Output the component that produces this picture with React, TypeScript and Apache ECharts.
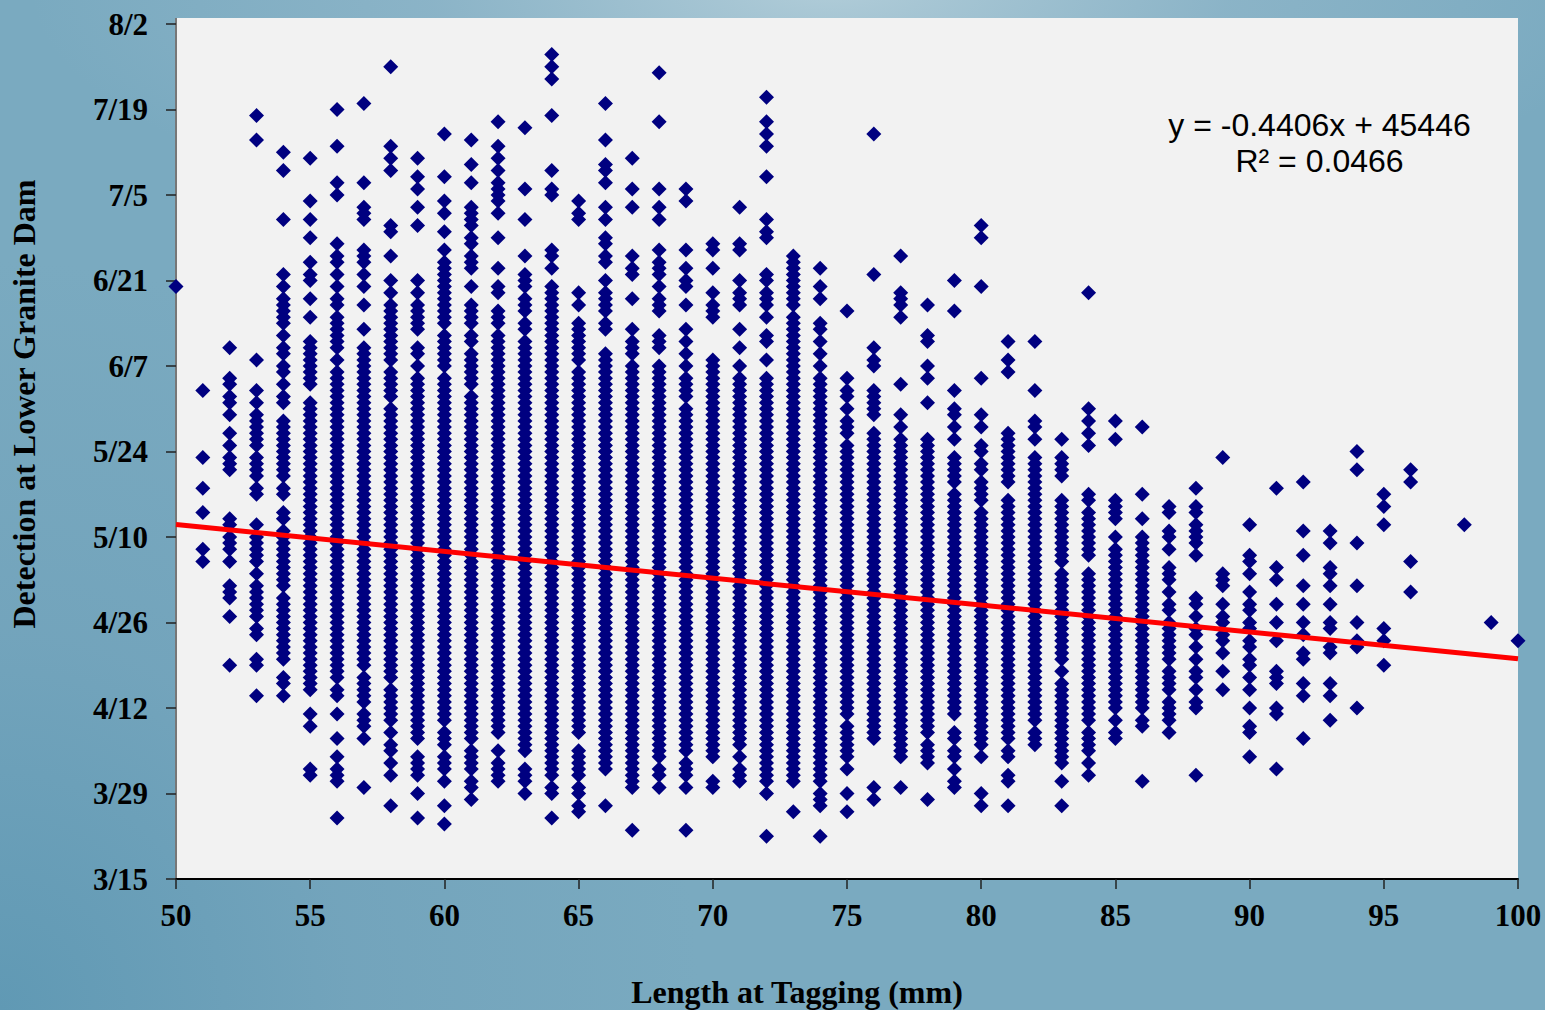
import React, { useEffect, useRef } from "react";
import * as echarts from "echarts";

// Days after 3/15 at Lower Granite Dam, per length at tagging (mm).
// A pair [a, b] is a solid run of detections, from day a to day b.
type Run = number | [number, number];
const len50: Run[] = [97];
const len51: Run[] = [80, 69, 64, 60, 54, 52];
const len52: Run[] = [87, [81, 82], [78, 79], 76, 73, 71, [67, 69], [58, 59], [54, 56], 52, [46, 48], 43, 35];
const len53: Run[] = [125, 121, 85, 80, 78, [71, 76], [66, 69], [63, 64], 58, [52, 56], 50, [43, 48], [40, 41], [35, 36], 30];
const len54: Run[] = [119, 116, 108, 99, 97, [92, 95], 91, 89, [86, 87], [83, 84], 81, [78, 79], [66, 75], [63, 64], [59, 60], [48, 57], [36, 46], [32, 33], 30];
const len55: Run[] = [118, 111, 108, 105, 101, [98, 99], 95, 92, [81, 88], [31, 78], 27, 25, [17, 18]];
const len56: Run[] = [126, 120, 114, 112, 104, [101, 102], 99, 97, [94, 95], [87, 92], 85, [33, 83], [30, 31], 27, 23, 20, [16, 18], 10];
const len57: Run[] = [127, 114, [108, 110], [101, 103], 99, 97, 94, 90, [35, 87], [29, 33], [25, 27], 23, 15];
const len58: Run[] = [133, 120, 118, 116, [106, 107], 102, 98, 96, [85, 94], [79, 83], [33, 77], [26, 31], 24, [21, 22], 19, 17, 12];
const len59: Run[] = [118, 115, 113, 110, 107, 98, 96, [90, 94], [86, 87], 84, [23, 82], [17, 20], 14, 10];
const len60: Run[] = [122, 115, 111, 109, 106, 103, [91, 101], [84, 89], [26, 82], [22, 24], [18, 20], 16, 12, 9];
const len61: Run[] = [121, 117, 114, [107, 110], [104, 105], [100, 102], 97, [91, 94], [88, 89], [81, 86], [23, 79], [18, 21], [15, 16], 13];
const len62: Run[] = [124, 120, 118, 116, [111, 114], 109, 105, 100, [96, 97], [91, 93], [24, 89], 21, [16, 19]];
const len63: Run[] = [123, 113, 108, 102, [97, 99], [93, 95], [90, 91], [21, 88], [16, 18], 14];
const len64: Run[] = [135, 133, 131, 125, 116, [112, 113], [102, 103], 100, [17, 97], [14, 15], 10];
const len65: Run[] = [111, [108, 109], 96, 94, [85, 91], [24, 83], [17, 21], [14, 15], [11, 12]];
const len66: Run[] = [127, 121, [116, 117], 114, 110, 108, [104, 105], [101, 102], 98, [93, 96], [90, 91], [18, 86], 12];
const len67: Run[] = [118, 113, 110, 102, [99, 100], 95, 90, [86, 88], [15, 84], 8];
const len68: Run[] = [132, 124, 113, 110, 108, 103, [99, 101], 97, [93, 95], [87, 89], [20, 84], [17, 18], 15];
const len69: Run[] = [113, 111, 103, 100, [97, 98], 94, 90, 88, 86, 84, [79, 82], [21, 77], [17, 19], 15, 8];
const len70: Run[] = [[103, 104], 100, 96, [92, 94], [20, 85], [15, 16]];
const len71: Run[] = [110, [103, 104], 98, [94, 96], 90, 87, 84, [22, 82], 20, [16, 18]];
const len72: Run[] = [128, 124, 122, 120, 115, 108, [105, 106], [98, 99], [94, 96], 92, [88, 89], 85, [16, 82], 14, 7];
const len73: Run[] = [[101, 102], [94, 100], [16, 92], 11];
const len74: Run[] = [100, 97, 95, [90, 91], 88, 86, 84, [16, 82], [12, 14], 7];
const len75: Run[] = [93, 82, [79, 80], 77, [73, 75], [27, 71], [20, 25], 18, 14, 11];
const len76: Run[] = [122, 99, 87, [84, 85], [76, 80], [23, 73], 15, 13];
const len77: Run[] = [102, [94, 96], 92, 81, 76, 74, [20, 72], 15];
const len78: Run[] = [94, [88, 89], 84, 82, 78, [24, 72], [19, 22], 13];
const len79: Run[] = [98, 93, 80, [76, 77], 74, 72, [65, 69], [27, 63], [23, 24], [20, 21], 18, [15, 16]];
const len80: Run[] = [107, 105, 97, 82, 76, 74, [70, 71], [67, 68], [62, 65], [22, 60], 20, 14, 12];
const len81: Run[] = [88, 85, 83, [65, 73], [23, 62], [20, 21], [16, 17], 12];
const len82: Run[] = [88, 80, [74, 75], 72, [26, 69], [22, 24]];
const len83: Run[] = [72, [66, 69], [52, 62], [36, 50], 34, [19, 32], 16, 12];
const len84: Run[] = [96, 77, 75, 73, 71, [62, 63], [53, 60], [26, 50], [21, 24], 19, 17];
const len85: Run[] = [75, 72, [59, 62], 56, [28, 54], 26, [23, 24]];
const len86: Run[] = [74, 63, 59, [28, 56], [25, 26], 16];
const len87: Run[] = [[60, 61], [56, 57], 54, [49, 51], 47, [44, 45], [36, 42], [31, 34], [26, 29], 24];
const len88: Run[] = [64, [60, 61], [55, 58], 53, [45, 46], 43, [40, 41], 38, 36, [33, 34], 31, [28, 29], 17];
const len89: Run[] = [69, [48, 50], 45, [42, 43], [39, 40], 37, 34, 31];
const len90: Run[] = [58, [52, 53], 50, 47, [44, 45], [41, 42], [38, 39], [35, 36], 33, 31, 28, [24, 25], 20];
const len91: Run[] = [64, 51, 49, 45, 42, 39, [32, 34], [27, 28], 18];
const len92: Run[] = [65, 57, 53, 48, 45, 42, 40, [36, 37], 32, 30, 23];
const len93: Run[] = [57, 55, [50, 51], 48, 45, [41, 42], [37, 38], 32, 30, 26];
const len94: Run[] = [70, 67, 55, 48, 42, [38, 39], 28];
const len95: Run[] = [63, 61, 58, 41, 39, 35];
const len96: Run[] = [67, 65, 52, 47];
const len98: Run[] = [58];
const len99: Run[] = [42];
const len100: Run[] = [39];

const lengths = [50, 51, 52, 53, 54, 55, 56, 57, 58, 59, 60, 61, 62, 63, 64, 65, 66, 67, 68, 69, 70, 71, 72, 73, 74, 75, 76, 77, 78, 79, 80, 81, 82, 83, 84, 85, 86, 87, 88, 89, 90, 91, 92, 93, 94, 95, 96, 98, 99, 100];
const columns = [len50, len51, len52, len53, len54, len55, len56, len57, len58, len59, len60, len61, len62, len63, len64, len65, len66, len67, len68, len69, len70, len71, len72, len73, len74, len75, len76, len77, len78, len79, len80, len81, len82, len83, len84, len85, len86, len87, len88, len89, len90, len91, len92, len93, len94, len95, len96, len98, len99, len100];

const dateLabels = ["3/15", "3/29", "4/12", "4/26", "5/10", "5/24", "6/7", "6/21", "7/5", "7/19", "8/2"];
const trendLengths = [50, 100];
const trendDays = [58.05, 36.05];
const equation = "y = -0.4406x + 45446\nR² = 0.0466";
const xTitle = "Length at Tagging (mm)";
const yTitle = "Detection at Lower Granite Dam";

function expand(): [number, number][] {
  const pts: [number, number][] = [];
  columns.forEach((col, i) => {
    col.forEach((r) => {
      if (Array.isArray(r)) {
        for (let d = r[1]; d >= r[0]; d--) pts.push([lengths[i], d]);
      } else {
        pts.push([lengths[i], r]);
      }
    });
  });
  return pts;
}

const SERIF = '"Liberation Serif", "Times New Roman", serif';
const SANS = '"Liberation Sans", Arial, sans-serif';

export default function App() {
  const ref = useRef<HTMLDivElement>(null);
  useEffect(() => {
    document.body.style.margin = "0";
    const chart = echarts.init(ref.current!, undefined, { renderer: "svg", width: 1545, height: 1010 });
    chart.setOption({
      animation: false,
      backgroundColor: "transparent",
      grid: { left: 176, right: 27, top: 24, bottom: 131, containLabel: false },
      xAxis: {
        type: "value",
        min: 50,
        max: 100,
        interval: 5,
        splitLine: { show: false },
        axisLine: { lineStyle: { color: "#000", width: 2 } },
        axisTick: { length: 10, lineStyle: { color: "#222", width: 1.5 } },
        axisLabel: { color: "#000", fontFamily: SERIF, fontWeight: "bold", fontSize: 31, margin: 21 },
      },
      yAxis: {
        type: "value",
        min: 0,
        max: 140,
        interval: 14,
        splitLine: { show: false },
        axisLine: { show: true, lineStyle: { color: "#777", width: 2 } },
        axisTick: { show: true, length: 10, lineStyle: { color: "#222", width: 1.5 } },
        axisLabel: {
          color: "#000",
          fontFamily: SERIF,
          fontWeight: "bold",
          fontSize: 31,
          margin: 28,
          formatter: (v: number) => dateLabels[Math.round(v / 14)] ?? "",
        },
      },
      graphic: [
        { type: "rect", z: -10, shape: { x: 176, y: 18, width: 1342, height: 861 }, style: { fill: "#f2f2f2" } },
        { type: "line", z: -9, shape: { x1: 176, y1: 18, x2: 176, y2: 24 }, style: { stroke: "#777", lineWidth: 2 } },
        {
          type: "text", z: 10, x: 1319.5, y: 143,
          style: { text: equation, fill: "#000", font: `32px ${SANS}`, align: "center", verticalAlign: "middle", lineHeight: 36 },
        },
        {
          type: "text", z: 10, x: 797, y: 992,
          style: { text: xTitle, fill: "#000", font: `bold 32px ${SERIF}`, align: "center", verticalAlign: "middle" },
        },
        {
          type: "text", z: 10, x: 24, y: 404, rotation: Math.PI / 2,
          style: { text: yTitle, fill: "#000", font: `bold 32px ${SERIF}`, align: "center", verticalAlign: "middle" },
        },
      ],
      series: [
        {
          type: "scatter",
          data: expand(),
          symbol: "diamond",
          symbolSize: 15,
          clip: false,
          itemStyle: { color: "#000080", opacity: 1 },
          z: 3,
        },
        {
          type: "line",
          data: trendLengths.map((x, i) => [x, trendDays[i]]),
          showSymbol: false,
          lineStyle: { color: "#ff0000", width: 5 },
          z: 5,
        },
      ],
    });
    return () => chart.dispose();
  }, []);
  return (
    <div
      ref={ref}
      style={{
        position: "fixed",
        left: 0,
        top: 0,
        width: 1545,
        height: 1010,
        background:
          "radial-gradient(ellipse 800px 260px at 830px -10px, rgba(176,204,216,1) 0%, rgba(150,186,204,0.6) 50%, rgba(122,170,192,0) 100%), radial-gradient(ellipse 700px 750px at 0px 1010px, rgba(96,153,180,1) 0%, rgba(110,160,185,0.6) 50%, rgba(122,170,192,0) 100%), #7aaac0",
      }}
    />
  );
}
